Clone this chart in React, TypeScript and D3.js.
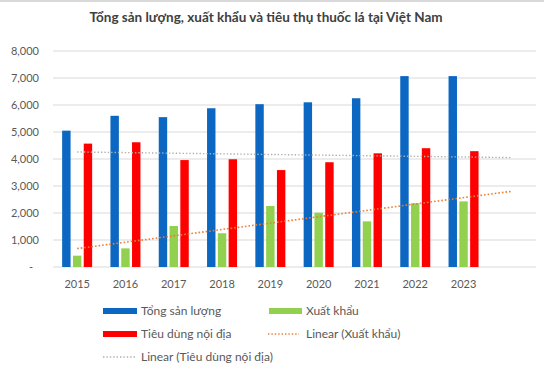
import React from 'react'
import * as d3 from 'd3'

const years = ['2015', '2016', '2017', '2018', '2019', '2020', '2021', '2022', '2023']
const tongSanLuong = [5050, 5600, 5550, 5880, 6030, 6100, 6250, 7070, 7070]
const xuatKhau = [420, 690, 1520, 1250, 2260, 2010, 1690, 2360, 2430]
const tieuDung = [4570, 4620, 3960, 3990, 3590, 3880, 4210, 4400, 4290]
const yTicks = [0, 1000, 2000, 3000, 4000, 5000, 6000, 7000, 8000]

const seriesNames = ['Tổng sản lượng', 'Xuất khẩu', 'Tiêu dùng nội địa']
const seriesColors = ['#0b67c2', '#92d050', '#ff0000']

const W = 544
const H = 371
const left = 53
const right = 536
const top = 51
const bottom = 267
const font = 'Lato, "Open Sans", sans-serif'

// Excel style linear trendline, forecast forward one period
function trend(values: number[]) {
  const xs = values.map((_, i) => i + 1)
  const mx = d3.mean(xs)!
  const my = d3.mean(values)!
  const sxy = d3.sum(xs, (x, i) => (x - mx) * (values[i] - my))
  const sxx = d3.sum(xs, (x) => (x - mx) * (x - mx))
  const slope = sxy / sxx
  return (x: number) => my + slope * (x - mx)
}

export default function App() {
  const slots = [...years, '']
  const x0 = d3.scaleBand().domain(slots.map((d, i) => String(i))).range([left, right])
  const x1 = d3.scaleBand().domain(['0', '1', '2']).range([0, 30]).paddingInner(0.22)
  const y = d3.scaleLinear().domain([0, 8000]).range([bottom, top])
  const cx = (i: number) => x0(String(i))! + x0.bandwidth() / 2

  const data = [tongSanLuong, xuatKhau, tieuDung]

  const trendLine = (values: number[]) => {
    const f = trend(values)
    const pts = d3.range(1, values.length + 2).map((k) => [cx(k - 1), y(f(k))] as [number, number])
    return d3.line()([pts[0], pts[pts.length - 1]])!
  }

  return (
    <svg width={W} height={H} style={{ position: 'absolute', left: 0, top: 0, background: '#fff' }}>
      <line x1={0} x2={W} y1={1} y2={1} stroke="#d9d9d9" strokeWidth={2} />
      <text x={266} y={22} textAnchor="middle" fontFamily={font} fontWeight="bold" fontSize={13.5} fill="#404040">
        Tổng sản lượng, xuất khẩu và tiêu thụ thuốc lá tại Việt Nam
      </text>

      {yTicks.map((t) => (
        <g key={t}>
          <line x1={left} x2={right} y1={y(t)} y2={y(t)} stroke="#d9d9d9" strokeWidth={1} />
          <text x={t === 0 ? 33 : 39} y={y(t)} dy="0.35em" textAnchor="end" fontFamily={font} fontSize={11} fill="#595959">
            {t === 0 ? '-' : d3.format(',')(t)}
          </text>
        </g>
      ))}

      {years.map((yr, i) => (
        <g key={yr} transform={`translate(${cx(i) - 15},0)`}>
          {data.map((vals, s) => (
            <rect
              key={s}
              x={x1(String(s))}
              y={y(vals[i])}
              width={x1.bandwidth()}
              height={y(0) - y(vals[i])}
              fill={seriesColors[s]}
            />
          ))}
        </g>
      ))}

      {years.map((yr, i) => (
        <text key={yr} x={cx(i)} y={288} textAnchor="middle" fontFamily={font} fontSize={11} fill="#595959">
          {yr}
        </text>
      ))}

      <path d={trendLine(xuatKhau)} stroke="#ed7d31" strokeWidth={1.6} strokeDasharray="1.6,2" fill="none" />
      <path d={trendLine(tieuDung)} stroke="#b0b0b0" strokeWidth={1.4} strokeDasharray="1.4,2" fill="none" />

      <g fontFamily={font} fontSize={12} fill="#595959">
        <rect x={103} y={308} width={34} height={6} fill={seriesColors[0]} />
        <text x={141} y={311} dy="0.35em">{seriesNames[0]}</text>
        <rect x={269} y={308} width={33} height={6} fill={seriesColors[1]} />
        <text x={306} y={311} dy="0.35em">{seriesNames[1]}</text>

        <rect x={103} y={331} width={34} height={6} fill={seriesColors[2]} />
        <text x={141} y={334} dy="0.35em">{seriesNames[2]}</text>
        <line x1={268} x2={299} y1={334} y2={334} stroke="#ed7d31" strokeWidth={1.4} strokeDasharray="1.4,2" />
        <text x={306} y={334} dy="0.35em">Linear ({seriesNames[1]})</text>

        <line x1={103} x2={136} y1={357} y2={357} stroke="#b0b0b0" strokeWidth={1.4} strokeDasharray="1.4,2" />
        <text x={141} y={357} dy="0.35em">Linear ({seriesNames[2]})</text>
      </g>
    </svg>
  )
}
